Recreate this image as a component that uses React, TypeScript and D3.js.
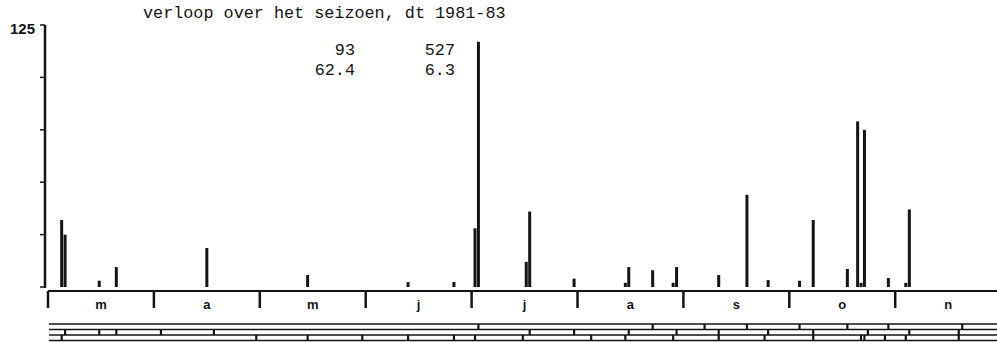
import React from 'react';
import * as d3 from 'd3';

// catch per sample date (dd = day of season), 1981-83 pooled
const barDates = ['03-05', '03-06', '03-16', '03-21', '04-16', '05-15', '06-13', '06-26', '07-02', '07-03',
  '07-17', '07-18', '07-31', '08-15', '08-16', '08-23', '08-29', '08-30', '09-11', '09-19',
  '09-25', '10-04', '10-08', '10-18', '10-21', '10-22', '10-23', '10-30', '11-04', '11-05'];
const barValues = [32, 25, 3, 9.5, 18.6, 5.7, 2.4, 2.4, 28, 527,
  12, 36, 4, 2, 9.5, 8, 2, 9.5, 5.7, 44,
  3.3, 3, 32, 8.6, 79, 2, 75, 4.3, 2, 37];

const monthLabels = ['m', 'a', 'm', 'j', 'j', 'a', 's', 'o', 'n'];
const yTicks = [0, 25, 50, 75, 100, 125];

// sampling dates per year (the three rows under the axis)
const row1981 = ['07-03', '08-23', '09-07', '09-19', '10-04', '10-18', '10-30', '11-20'];
const row1982 = ['03-06', '03-16', '03-21', '04-03', '04-18', '07-18', '07-31', '08-16', '08-30', '09-11',
  '09-25', '10-08', '10-24', '11-05', '11-19'];
const row1983 = ['03-05', '04-30', '05-15', '05-31', '06-13', '06-26', '07-02', '07-16', '08-05', '08-15',
  '08-29', '09-11', '09-24', '10-08', '10-22', '10-23', '10-29', '11-04', '11-19'];

const title = 'verloop over het seizoen, dt 1981-83';
const noteLeft = ['93', '62.4'];
const noteRight = ['527', '6.3'];

const toDate = (s: string) => {
  const [m, d] = s.split('-').map(Number);
  return new Date(1982, m - 1, d);
};

const App: React.FC = () => {
  const width = 997;
  const height = 342;
  const left = 48;
  const monthW = 105.9;
  const ink = '#141414';

  // every month gets the same width on the sheet
  const monthStarts = d3.range(10).map(i => new Date(1982, 2 + i, 1));
  const x = d3.scaleTime()
    .domain(monthStarts)
    .range(monthStarts.map((_, i) => left + i * monthW));

  const y = d3.scaleLinear().domain([0, 125]).range([287, 25]);
  const cap = 117; // taller bars run off the top

  const axisY = 291;
  const rowLines = [324, 329.5, 335, 340.5];
  const rows = [row1981, row1982, row1983];

  return (
    <svg width={width} height={height} style={{ position: 'absolute', left: 0, top: 0, background: '#fff' }}>
      <text x={143} y={18} fontFamily="Liberation Mono" fontSize={16.8} fill={ink}>{title}</text>
      {noteLeft.map((t, i) => (
        <text key={'l' + i} x={355} y={55 + i * 20} textAnchor="end" fontFamily="Liberation Mono" fontSize={16.8} fill={ink}>{t}</text>
      ))}
      {noteRight.map((t, i) => (
        <text key={'r' + i} x={455} y={55 + i * 20} textAnchor="end" fontFamily="Liberation Mono" fontSize={16.8} fill={ink}>{t}</text>
      ))}

      {/* y axis */}
      <line x1={45} x2={45} y1={y(125)} y2={y(0) + 1} stroke={ink} strokeWidth={2.5} />
      {yTicks.map(t => (
        <line key={t} x1={40} x2={45} y1={y(t)} y2={y(t)} stroke={ink} strokeWidth={1.5} />
      ))}
      <text x={35} y={34} textAnchor="end" fontFamily="Liberation Sans" fontWeight="bold" fontSize={15} fill={ink}>125</text>

      {/* bars */}
      {barDates.map((d, i) => (
        <line key={i} x1={x(toDate(d))} x2={x(toDate(d))} y1={y(0)} y2={y(Math.min(barValues[i], cap))}
          stroke={ink} strokeWidth={3} />
      ))}

      {/* month axis */}
      <line x1={left} x2={width} y1={axisY} y2={axisY} stroke={ink} strokeWidth={2} />
      {monthStarts.slice(0, 9).map((m, i) => (
        <line key={i} x1={x(m)} x2={x(m)} y1={axisY} y2={axisY + 17} stroke={ink} strokeWidth={2.5} />
      ))}
      {monthLabels.map((l, i) => (
        <text key={i} x={left + (i + 0.5) * monthW} y={309} textAnchor="middle" fontFamily="Liberation Sans"
          fontWeight="bold" fontSize={13} fill={ink}>{l}</text>
      ))}

      {/* sampling rows */}
      {rowLines.map((ly, i) => (
        <line key={i} x1={left + 1} x2={width} y1={ly} y2={ly} stroke={ink} strokeWidth={1.4} />
      ))}
      {rows.map((r, ri) => r.map((d, i) => (
        <line key={ri + '-' + i} x1={x(toDate(d))} x2={x(toDate(d))} y1={rowLines[ri]} y2={rowLines[ri + 1]}
          stroke={ink} strokeWidth={2.2} />
      )))}
    </svg>
  );
};

export default App;
